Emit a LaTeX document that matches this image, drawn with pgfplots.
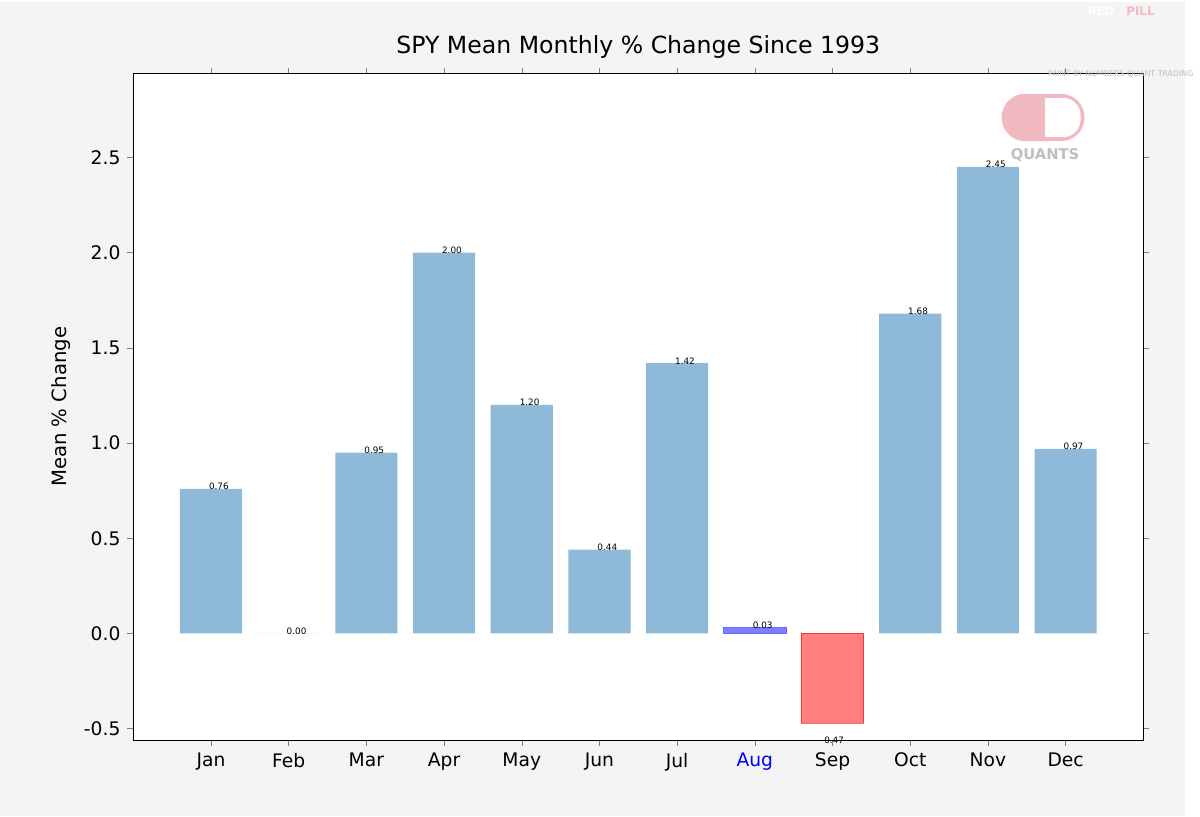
\documentclass[border=0pt]{standalone}
\usepackage{pgfplots}
\pgfplotsset{compat=1.18}
\usepackage{fontspec}
\setmainfont{DejaVu Sans}
\usetikzlibrary{backgrounds,calc}
\definecolor{barc}{HTML}{8FB9D8}
\definecolor{bgc}{HTML}{F4F4F4}
\definecolor{pill}{HTML}{F2B8BF}
\begin{document}
\begin{tikzpicture}
\begin{axis}[
  scale only axis, width=511.5bp, height=337.5bp,
  xmin=-1, xmax=12, ymin=-0.56, ymax=2.94,
  xtick={0,...,11},
  xticklabels={Jan,Feb,Mar,Apr,May,Jun,Jul,{\textcolor{blue}{Aug}},Sep,Oct,Nov,Dec},
  ytick={-0.5,0,0.5,1,1.5,2,2.5},
  yticklabel style={/pgf/number format/.cd,fixed,fixed zerofill,precision=1},
  /pgf/number format/assume math mode=true,
  ticklabel style={font=\fontsize{9.5}{11}\selectfont},
  ylabel={Mean \% Change}, ylabel style={font=\fontsize{10}{12}\selectfont},
  title={SPY Mean Monthly \% Change Since 1993},
  title style={font=\fontsize{12}{14}\selectfont, yshift=-2bp},
  tick align=outside, major tick length=3bp,
  axis background/.style={fill=white},
  clip=false,
]
\addplot[ybar, bar width=0.8, fill=barc, draw=none,
  nodes near coords, point meta=explicit symbolic,
  every node near coord/.append style={font=\fontsize{4.5}{5}\selectfont, xshift=4bp, yshift=-4bp}]
  coordinates {(0,0.76)[0.76] (1,0.0)[0.00] (2,0.95)[0.95] (3,2.00)[2.00] (4,1.20)[1.20] (5,0.44)[0.44] (6,1.42)[1.42] (9,1.68)[1.68] (10,2.45)[2.45] (11,0.97)[0.97]};
\addplot[ybar, bar width=0.8, fill=blue, fill opacity=0.5, draw=blue, draw opacity=0.6,
  nodes near coords, point meta=explicit symbolic,
  every node near coord/.append style={font=\fontsize{4.5}{5}\selectfont, xshift=4bp, yshift=-4bp, opacity=1}]
  coordinates {(7,0.03)[0.03]};
\addplot[ybar, bar width=0.8, fill=red, fill opacity=0.5, draw=red, draw opacity=0.6,
  nodes near coords, point meta=explicit symbolic,
  every node near coord/.append style={font=\fontsize{4.5}{5}\selectfont, yshift=-9bp, opacity=1, anchor=center}]
  coordinates {(8,-0.47)[-0.47]};
% logo
\coordinate (L) at (axis cs:10.71,2.71);
\fill[pill, rounded corners=12bp] ($(L)+(-21bp,-12bp)$) rectangle ($(L)+(21bp,12bp)$);
\fill[white, rounded corners=9bp] ($(L)+(1bp,-10bp)$) rectangle ($(L)+(19bp,10bp)$);
\fill[white] ($(L)+(1bp,-10bp)$) rectangle ($(L)+(8bp,10bp)$);
\node[white, font=\bfseries\fontsize{6}{7}\selectfont] at ($(L)+(-10bp,0)$) {RED};
\node[pill, font=\bfseries\fontsize{6}{7}\selectfont] at ($(L)+(10bp,0)$) {PILL};
\node[black!25, font=\bfseries\fontsize{7.5}{8}\selectfont] at ($(L)+(1bp,-19bp)$) {QUANTS};
\node[black!25, font=\fontsize{4}{5}\selectfont] at ($(L)+(0,-32bp)$) {PAINT BY NUMBERS QUANT TRADING};
\end{axis}
\begin{scope}[on background layer]
\fill[bgc] ($(current axis.south west)+(-67.5bp,-38.5bp)$) rectangle ($(current axis.north east)+(21bp,36.5bp)$);
\end{scope}
\path[use as bounding box] ($(current axis.south west)+(-67.5bp,-38.5bp)$) rectangle ($(current axis.north east)+(21bp,36.5bp)$);
\end{tikzpicture}
\end{document}
